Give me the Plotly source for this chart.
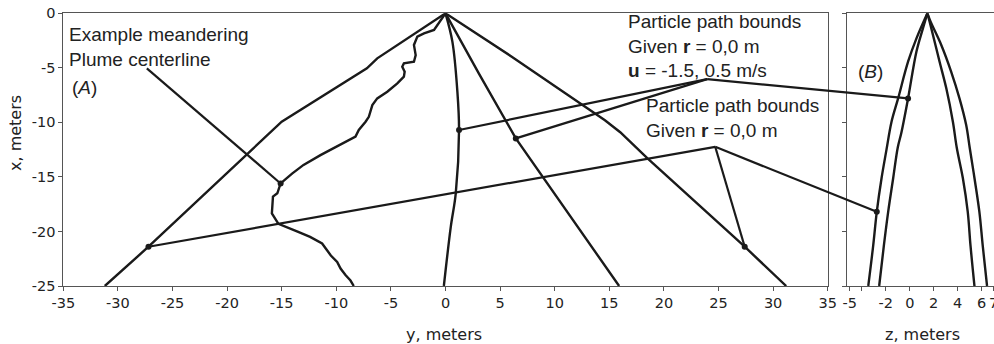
import plotly.graph_objects as go

# ---------------- Data ----------------
# Panel A: horizontal coordinate y (m), vertical coordinate x (m)
outer_left_y = [0, -6.25, -7.2, -15.0, -27.2, -31.2]
outer_left_x = [0, -4.13, -5.05, -9.94, -21.4, -25.0]

outer_right_y = [0, 6.1, 14.6, 16.0, 18.5, 27.4, 31.2]
outer_right_x = [0, -4.0, -9.8, -10.9, -13.3, -21.4, -25.0]

u_left_y = [0, 0.63, 1.09, 1.24, 0.94, 0.48, -0.15]
u_left_x = [0, -2.6, -7.2, -10.7, -16.5, -19.6, -25.0]

u_right_y = [0, 3.1, 6.44, 9.6, 12.4, 15.9]
u_right_x = [0, -5.6, -11.47, -16.0, -20.0, -25.0]

centerline_y = [0, -1.05, -1.97, -2.58, -2.89, -2.73, -2.89, -3.81, -3.96, -3.74,
                -3.81, -4.41, -5.33, -6.25, -6.7, -7.02, -7.32, -7.94, -8.24, -9.31,
                -10.5, -11.45, -13.0, -14.05, -14.8, -15.1, -15.4, -15.8, -15.9, -15.6,
                -15.3, -13.6, -12.4, -11.3, -10.5, -9.92, -9.61, -9.16, -8.7, -8.4]
centerline_x = [0, -1.53, -1.84, -2.14, -2.9, -3.83, -4.44, -4.59, -4.9, -5.36,
                -5.81, -6.42, -7.19, -7.8, -8.41, -9.49, -9.94, -10.7, -11.3, -11.9,
                -12.5, -13.0, -13.9, -14.7, -15.3, -15.6, -16.5, -16.8, -18.35, -18.8,
                -19.3, -20.0, -20.5, -21.1, -22.2, -22.8, -23.4, -24.0, -24.5, -25.0]

# Panel B: horizontal coordinate z (m), vertical coordinate x (m)
b_outer_left_z = [1.47, 0.56, -0.14, -0.97, -1.52, -1.94, -2.35, -2.75, -3.05, -3.46]
b_outer_left_x = [0, -2.3, -4.44, -7.8, -9.94, -12.5, -15.1, -18.2, -21.3, -25.0]
b_inner_left_z = [1.47, 1.1, 0.56, -0.14, -0.69, -1.0, -1.38, -1.8, -2.16, -2.55]
b_inner_left_x = [0, -1.38, -3.5, -7.8, -10.9, -12.3, -15.1, -18.2, -21.3, -25.0]
b_inner_right_z = [1.47, 1.8, 2.49, 3.05, 3.6, 3.92, 4.43, 4.84, 5.07, 5.4]
b_inner_right_x = [0, -1.38, -4.44, -6.88, -9.94, -12.3, -15.1, -18.2, -21.3, -25.0]
b_outer_right_z = [1.47, 1.74, 2.63, 3.46, 4.15, 4.71, 5.0, 5.4, 5.81, 6.09, 6.45]
b_outer_right_x = [0, -0.77, -2.9, -5.36, -7.8, -10.25, -12.3, -15.1, -18.2, -21.3, -25.0]

# Marked points
centerline_pt = (-15.1, -15.6)
u_pts_a = [(1.24, -10.7), (6.44, -11.47)]
r_pts_a = [(-27.2, -21.4), (27.4, -21.4)]
u_pt_b = (-0.14, -7.8)
r_pt_b = (-2.75, -18.2)

# Tick labels
x1_ticks = list(range(-35, 40, 5))
y_ticks = [0, -5, -10, -15, -20, -25]
x2_ticks = [-5, -4, -2, 0, 2, 4, 6, 7]
x2_ticktext = ["-5", "", "-2", "0", "2", "4", "6", "7"]

# ---------------- Layout geometry ----------------
W, H = 994, 344
DOM_A = [63.3 / W, 827.7 / W]
DOM_B = [847.3 / W, 1.0]
DOM_Y = [1 - 286.0 / H, 1 - 13.3 / H]
RANGE_A = [-35, 35]
RANGE_B = [-5.21, 7.03]
RANGE_Y = [-25, 0]

# Leader-line anchor points (panel A data coords)
label_tip = (-27.35, -5.05)
u_vertex = (23.96, -6.03)
r_vertex = (24.7, -12.24)

INK = "#1a1a1a"
LW = 2.4
TICKFONT = dict(family="DejaVu Sans, sans-serif", size=14.5, color="#222")
TITLEFONT = dict(family="DejaVu Sans, sans-serif", size=16, color="#222")
NOTEFONT = dict(family="Liberation Sans, Arial, sans-serif", size=19, color="#222")


def to_paper(v, rng, dom):
    return dom[0] + (v - rng[0]) / (rng[1] - rng[0]) * (dom[1] - dom[0])


fig = go.Figure()


def line(xs, ys, xa="x", ya="y", shape="linear", width=LW):
    fig.add_trace(go.Scatter(x=xs, y=ys, mode="lines", xaxis=xa, yaxis=ya,
                             line=dict(color=INK, width=width, shape=shape),
                             hoverinfo="skip", showlegend=False))


# Panel A curves
line(outer_left_y, outer_left_x)
line(outer_right_y, outer_right_x)
line(u_left_y, u_left_x, shape="spline")
line(u_right_y, u_right_x)
line(centerline_y, centerline_x)

# Panel A leader lines (inside panel)
line([label_tip[0], centerline_pt[0]], [label_tip[1], centerline_pt[1]], width=2.2)
for p in u_pts_a:
    line([u_vertex[0], p[0]], [u_vertex[1], p[1]], width=2.2)
for p in r_pts_a:
    line([r_vertex[0], p[0]], [r_vertex[1], p[1]], width=2.2)

# Panel A markers
pts = [centerline_pt] + u_pts_a + r_pts_a
fig.add_trace(go.Scatter(x=[p[0] for p in pts], y=[p[1] for p in pts], mode="markers",
                         marker=dict(color=INK, size=6), hoverinfo="skip", showlegend=False))

# Panel B curves
line(b_outer_left_z, b_outer_left_x, "x2", "y2", "spline")
line(b_inner_left_z, b_inner_left_x, "x2", "y2", "spline")
line(b_inner_right_z, b_inner_right_x, "x2", "y2", "spline")
line(b_outer_right_z, b_outer_right_x, "x2", "y2", "spline")
fig.add_trace(go.Scatter(x=[u_pt_b[0], r_pt_b[0]], y=[u_pt_b[1], r_pt_b[1]], mode="markers",
                         xaxis="x2", yaxis="y2", marker=dict(color=INK, size=6),
                         hoverinfo="skip", showlegend=False))

# Cross-panel leader lines (paper coords)
for vtx, tgt in [(u_vertex, u_pt_b), (r_vertex, r_pt_b)]:
    fig.add_shape(type="line", xref="paper", yref="paper",
                  x0=to_paper(vtx[0], RANGE_A, DOM_A), y0=to_paper(vtx[1], RANGE_Y, DOM_Y),
                  x1=to_paper(tgt[0], RANGE_B, DOM_B), y1=to_paper(tgt[1], RANGE_Y, DOM_Y),
                  line=dict(color=INK, width=2.2))

axis_common = dict(showgrid=False, zeroline=False, showline=True, linecolor="#555",
                   linewidth=1, ticks="outside", ticklen=4, tickcolor="#555",
                   tickfont=TICKFONT, automargin=False, ticklabeloverflow="allow")

fig.update_layout(
    template="none",
    width=W, height=H,
    margin=dict(l=0, r=0, t=0, b=0, pad=0, autoexpand=False),
    paper_bgcolor="white", plot_bgcolor="white",
    xaxis=dict(domain=DOM_A, range=RANGE_A, tickmode="array", tickvals=x1_ticks,
               ticktext=[str(v) for v in x1_ticks], mirror=True, anchor="y", **axis_common),
    yaxis=dict(domain=DOM_Y, range=RANGE_Y, tickmode="array", tickvals=y_ticks,
               ticktext=[str(v) for v in y_ticks], mirror=True, anchor="x", **axis_common),
    xaxis2=dict(domain=DOM_B, range=RANGE_B, tickmode="array", tickvals=x2_ticks,
                ticktext=x2_ticktext, mirror=True, anchor="y2", **axis_common),
    yaxis2=dict(domain=DOM_Y, range=RANGE_Y, tickmode="array", tickvals=y_ticks,
                showticklabels=False, mirror=False, anchor="x2", **axis_common),
    showlegend=False,
)

ann = [
    dict(text="x, meters", x=15 / W, y=1 - 133 / H, textangle=-90, font=TITLEFONT,
         xanchor="center", yanchor="middle"),
    dict(text="y, meters", x=444 / W, y=1 - 334 / H, font=TITLEFONT,
         xanchor="center", yanchor="middle"),
    dict(text="z, meters", x=922.5 / W, y=1 - 334 / H, font=TITLEFONT,
         xanchor="center", yanchor="middle"),
    dict(text="Example meandering<br>Plume centerline", x=67 / W, y=1 - 47 / H,
         font=NOTEFONT, xanchor="left", yanchor="middle", align="left"),
    dict(text="(<i>A</i>)", x=84 / W, y=1 - 87 / H, font=NOTEFONT,
         xanchor="center", yanchor="middle"),
    dict(text="Particle path bounds<br>Given <b>r</b> = 0,0 m<br><b>u</b> = -1.5, 0.5 m/s",
         x=625.7 / W, y=1 - 46.4 / H, font=NOTEFONT, xanchor="left", yanchor="middle",
         align="left"),
    dict(text="Particle path bounds<br>Given <b>r</b> = 0,0 m",
         x=644 / W, y=1 - 118.1 / H, font=NOTEFONT, xanchor="left", yanchor="middle",
         align="left"),
    dict(text="(<i>B</i>)", x=870 / W, y=1 - 71 / H, font=NOTEFONT,
         xanchor="center", yanchor="middle"),
]
for a in ann:
    a.setdefault("xref", "paper")
    a.setdefault("yref", "paper")
    a["showarrow"] = False
    fig.add_annotation(**a)

fig.write_html(
    "out.html",
    config={"displayModeBar": False},
    post_script="document.body.style.margin='0px'; document.body.style.overflow='hidden';",
)
